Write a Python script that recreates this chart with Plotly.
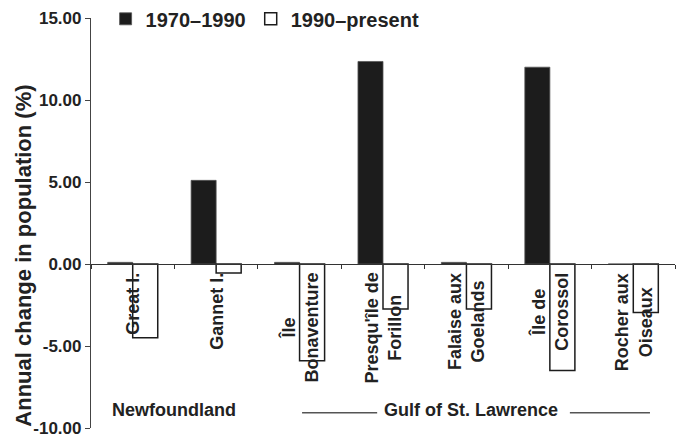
import plotly.graph_objects as go

# ---- data ----
sites = ["Great I.", "Gannet I.", "Île Bonaventure", "Presqu'île de Forillon",
         "Falaise aux Goelands", "Île de Corossol", "Rocher aux Oiseaux"]
site_labels = ["Great I.", "Gannet I.", "Île<br>Bonaventure", "Presqu'île de<br>Forillon",
               "Falaise aux<br>Goelands", "Île de<br>Corossol", "Rocher aux<br>Oiseaux"]
change_1970_1990 = [0.1, 5.1, 0.1, 12.35, 0.1, 12.0, 0.0]
change_1990_present = [-4.5, -0.55, -5.9, -2.75, -2.75, -6.5, -2.95]
series_names = ["1970–1990", "1990–present"]
y_tickvals = [-10, -5, 0, 5, 10, 15]
y_ticktext = ["-10.00", "-5.00", "0.00", "5.00", "10.00", "15.00"]
regions = ["Newfoundland", "Gulf of St. Lawrence"]
y_range = [-10, 15]

FONT = "Liberation Sans, Arial, Helvetica, sans-serif"
INK = "#1c1c1c"

fig = go.Figure()
fig.add_trace(go.Bar(x=sites, y=change_1970_1990, name=series_names[0],
                     marker=dict(color=INK, line=dict(color="#555", width=0.8))))
fig.add_trace(go.Bar(x=sites, y=change_1990_present, name=series_names[1],
                     marker=dict(color="white", line=dict(color=INK, width=1.5))))

# category labels (rotated, just below the zero line)
for s, lab in zip(sites, site_labels):
    fig.add_annotation(x=s, y=0, xref="x", yref="y", text=lab, textangle=-90,
                       showarrow=False, xanchor="center", yanchor="top", yshift=-7,
                       align="center",
                       font=dict(family=FONT, size=18, color="#222", weight=700))

# region labels
fig.add_annotation(x=0.5, y=-8.9, xref="x", yref="y", text=regions[0], showarrow=False,
                   font=dict(family=FONT, size=18, color="#222", weight=700))
fig.add_annotation(x=4.05, y=-8.9, xref="x", yref="y", text=regions[1], showarrow=False,
                   font=dict(family=FONT, size=18, color="#222", weight=700))
fig.add_shape(type="line", xref="x", yref="y", x0=2.03, x1=2.93, y0=-9.07, y1=-9.07,
              line=dict(color="#555", width=1.5))
fig.add_shape(type="line", xref="x", yref="y", x0=5.24, x1=6.2, y0=-9.07, y1=-9.07,
              line=dict(color="#555", width=1.5))

# y-axis title
fig.add_annotation(x=-0.115, y=0.42, xref="paper", yref="paper",
                   text="Annual change in population (%)", textangle=-90, showarrow=False,
                   xanchor="center", yanchor="middle",
                   font=dict(family=FONT, size=22, color="#222", weight=700))

zero_pos = (0 - y_range[0]) / (y_range[1] - y_range[0])

fig.update_layout(
    width=678, height=437,
    margin=dict(l=91, r=3, t=18, b=9, autoexpand=False),
    paper_bgcolor="white", plot_bgcolor="white",
    barmode="group", bargap=0.4, bargroupgap=0,
    font=dict(family=FONT, color="#222"),
    showlegend=True,
    legend=dict(orientation="h", x=0.025, xanchor="left", y=0.998, yanchor="middle",
                font=dict(family=FONT, size=20, color="#222", weight=700),
                bgcolor="rgba(0,0,0,0)", itemwidth=30, traceorder="normal"),
    xaxis=dict(range=[-0.5, 6.5], anchor="free", position=zero_pos,
               showline=True, linecolor="#333", linewidth=1,
               ticks="outside", tickson="boundaries", ticklen=4, tickcolor="#333",
               showticklabels=False, showgrid=False, zeroline=False),
    yaxis=dict(range=y_range, showline=True, linecolor="#444", linewidth=1.2,
               ticks="outside", ticklen=5, tickcolor="#444",
               tickvals=y_tickvals, ticktext=y_ticktext, ticklabeloverflow="allow",
               tickfont=dict(family=FONT, size=17, color="#222", weight=700),
               showgrid=False, zeroline=False),
)

fig.write_html("out.html", config={"displayModeBar": False},
               post_script="document.body.style.margin='0px';document.body.style.overflow='hidden';")
